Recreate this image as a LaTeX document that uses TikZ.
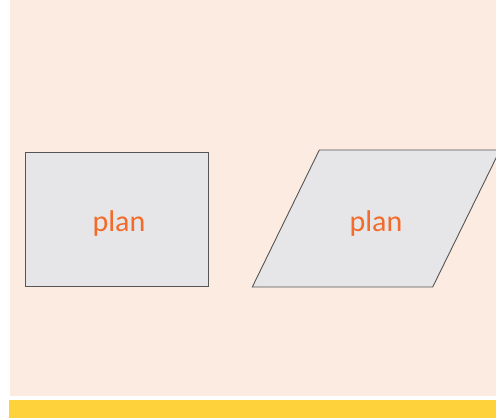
\documentclass[tikz,border=0pt]{standalone}
\usepackage{fontspec}
\setmainfont{Carlito}
\usepackage{tikz}
\usetikzlibrary{positioning}
\definecolor{peach}{RGB}{252,235,224}
\definecolor{band}{RGB}{253,210,58}
\definecolor{boxgray}{RGB}{230,230,232}
\definecolor{planorange}{RGB}{242,107,42}
\definecolor{edgegray}{RGB}{85,85,85}

\begin{document}
\begin{tikzpicture}[x=1pt, y=-1pt,
  planshape/.style={draw=edgegray, line width=0.9pt, fill=boxgray},
  plantext/.style={text=planorange, font=\fontsize{30}{36}\selectfont, inner sep=0pt, anchor=base}
]
\useasboundingbox (0,0) rectangle (496,418);
\clip (0,0) rectangle (496,418);
% background
\fill[white] (0,0) rectangle (496,418);
\fill[peach] (10,0) rectangle (496,395.7);
\fill[band] (9,399.7) rectangle (496,418);
% rectangle
\draw[planshape] (25.3,152.3) rectangle (208.3,286.7);
\node[plantext] (rect) at (119,231) {plan};
% parallelogram
\draw[planshape] (319.3,150) -- (500,150) -- (432.7,287) -- (252.3,287) -- cycle;
\node[plantext] (para) at (376,231) {plan};
\end{tikzpicture}
\end{document}
